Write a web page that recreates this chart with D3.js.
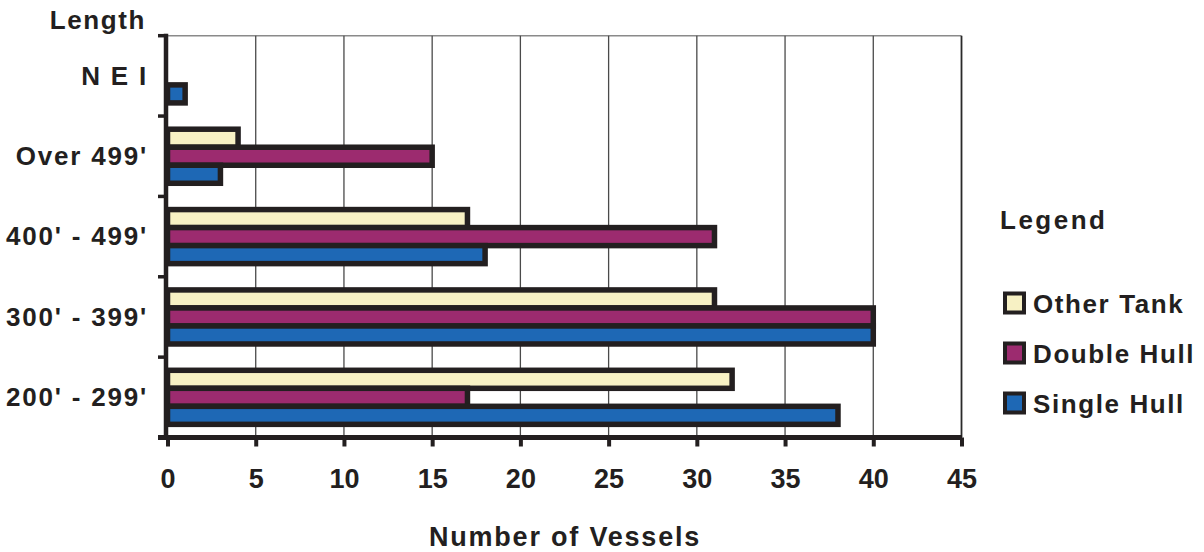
<!DOCTYPE html>
<html>
<head>
<meta charset="utf-8">
<script src="https://cdn.jsdelivr.net/npm/d3@7"></script>
<style>
  body { margin: 0; background: #fff; }
  text { font-family: "Liberation Sans", Arial, sans-serif; font-weight: bold; fill: #231f20; }
</style>
</head>
<body>
<div id="chart"></div>
<script>
// categories top to bottom, as in the picture
const categories = ["N E I", "Over 499'", "400' - 499'", "300' - 399'", "200' - 299'"];
const series = ["Other Tank", "Double Hull", "Single Hull"];
const colors = ["#f7f1c4", "#9c2b6f", "#1e68b5"];

// values per category, in series order
const otherTank  = [0, 4, 17, 31, 32];
const doubleHull = [0, 15, 31, 40, 17];
const singleHull = [1, 3, 18, 40, 38];

const xTicks = [0, 5, 10, 15, 20, 25, 30, 35, 40, 45];

const W = 1204, H = 552;
const plotL = 167.5, plotR = 961.5, plotT = 35.7, plotB = 437.5;
const ink = "#231f20";

const svg = d3.select("#chart").append("svg")
    .attr("width", W)
    .attr("height", H);

const x = d3.scaleLinear().domain([0, 45]).range([plotL, plotR]);
const y = d3.scaleBand().domain(categories).range([plotT, plotB]);
const inner = d3.scaleBand().domain(series).range([0, y.bandwidth()]).paddingOuter(0.73);

// frame: top thin line
svg.append("line")
    .attr("x1", plotL).attr("x2", plotR)
    .attr("y1", plotT).attr("y2", plotT)
    .attr("stroke", "#8a8a8a").attr("stroke-width", 1.5);

// gridlines (the one at 45 is the right border)
svg.append("g").selectAll("line")
    .data(xTicks.slice(1))
    .enter().append("line")
    .attr("x1", d => x(d)).attr("x2", d => x(d))
    .attr("y1", plotT).attr("y2", plotB)
    .attr("stroke", d => d === 45 ? "#2a2a2a" : "#4a4a4a")
    .attr("stroke-width", d => d === 45 ? 1.8 : 1.3);

// bars
const rows = [];
categories.forEach(function(c, i) {
    [otherTank, doubleHull, singleHull].forEach(function(vals, j) {
        if (vals[i] > 0) rows.push({cat: c, s: series[j], v: vals[i], color: colors[j]});
    });
});

svg.append("g").selectAll("rect")
    .data(rows)
    .enter().append("rect")
    .attr("x", x(0))
    .attr("y", d => y(d.cat) + inner(d.s))
    .attr("width", d => x(d.v) - x(0))
    .attr("height", inner.bandwidth())
    .attr("fill", d => d.color)
    .attr("stroke", ink)
    .attr("stroke-width", 5.5);

// bottom axis
const xAxis = d3.axisBottom(x).tickValues(xTicks).tickSize(9).tickPadding(22);
const gx = svg.append("g")
    .attr("transform", "translate(0," + plotB + ")")
    .call(xAxis);
gx.select(".domain").remove();
gx.selectAll(".tick line").attr("stroke", ink).attr("stroke-width", 4);
gx.selectAll(".tick text")
    .style("font-size", "27px")
    .attr("fill", ink)
    .attr("dy", "0.71em");
gx.append("line")
    .attr("x1", 158).attr("x2", plotR + 0.5)
    .attr("y1", 0).attr("y2", 0)
    .attr("stroke", ink).attr("stroke-width", 5);

// left axis with ticks at band edges
const edges = categories.map(c => y(c)).concat([plotB]);
svg.append("line")
    .attr("x1", 166).attr("x2", 166)
    .attr("y1", plotT - 2).attr("y2", plotB)
    .attr("stroke", ink).attr("stroke-width", 4.5);
svg.append("g").selectAll("line")
    .data(edges)
    .enter().append("line")
    .attr("x1", 158).attr("x2", 167)
    .attr("y1", d => d).attr("y2", d => d)
    .attr("stroke", ink).attr("stroke-width", 3.5);

svg.append("g").selectAll("text")
    .data(categories)
    .enter().append("text")
    .attr("x", 148)
    .attr("y", d => y(d) + y.bandwidth() / 2 + 2)
    .attr("text-anchor", "end")
    .attr("dominant-baseline", "middle")
    .style("font-size", "26px")
    .style("letter-spacing", "1.8px")
    .text(d => d);

svg.append("text")
    .attr("x", 146).attr("y", 29)
    .attr("text-anchor", "end")
    .style("font-size", "26px")
    .style("letter-spacing", "1.6px")
    .text("Length");

svg.append("text")
    .attr("x", 565).attr("y", 546)
    .attr("text-anchor", "middle")
    .style("font-size", "27px")
    .style("letter-spacing", "1.8px")
    .text("Number of Vessels");

// legend
svg.append("text")
    .attr("x", 1000).attr("y", 229)
    .style("font-size", "26px")
    .style("letter-spacing", "2.5px")
    .text("Legend");

const ly = d3.scalePoint().domain(series).range([303, 403]);
const leg = svg.append("g").selectAll("g")
    .data(series)
    .enter().append("g")
    .attr("transform", d => "translate(1005," + ly(d) + ")");
leg.append("rect")
    .attr("x", 0).attr("y", -9.5)
    .attr("width", 19).attr("height", 19)
    .attr("fill", (d, i) => colors[i])
    .attr("stroke", ink).attr("stroke-width", 4);
leg.append("text")
    .attr("x", 28).attr("y", 9.5)
    .style("font-size", "26px")
    .style("letter-spacing", "1.6px")
    .text(d => d);
</script>
</body>
</html>
